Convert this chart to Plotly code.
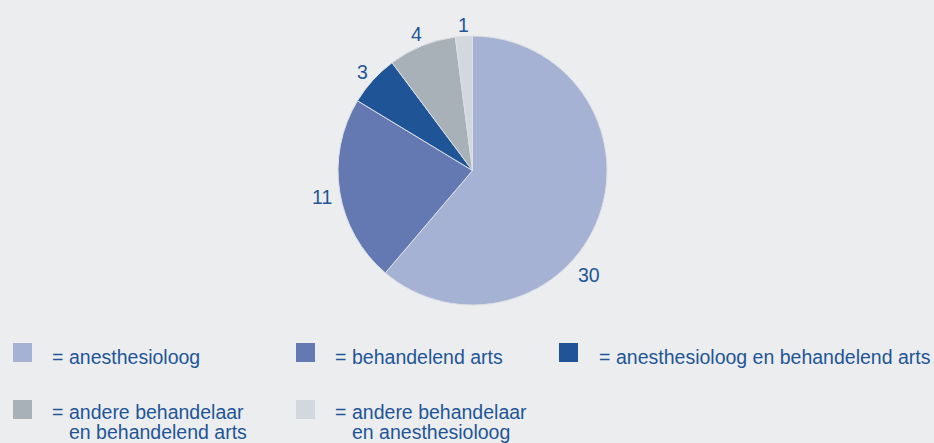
import math
import plotly.graph_objects as go

# ---- data ----
categories = [
    "anesthesioloog",
    "behandelend arts",
    "anesthesioloog en behandelend arts",
    "andere behandelaar en behandelend arts",
    "andere behandelaar en anesthesioloog",
]
values = [30, 11, 3, 4, 1]
legend_lines = [
    ["anesthesioloog"],
    ["behandelend arts"],
    ["anesthesioloog en behandelend arts"],
    ["andere behandelaar", "en behandelend arts"],
    ["andere behandelaar", "en anesthesioloog"],
]
colors = ["#A5B2D3", "#6479B2", "#1F5597", "#A8B0B8", "#D2D8DD"]

W, H = 934, 443
BG = "#ECEDEF"
TXT = "#1F5597"
FONT = "Liberation Sans"
FS = 19.5

# pie geometry (pixels)
CX, CY, R = 472.5, 170.5, 134.5


def py(y_px):
    return 1 - y_px / H


def px(x_px):
    return x_px / W


fig = go.Figure()
fig.add_trace(go.Pie(
    labels=categories,
    values=values,
    marker=dict(colors=colors, line=dict(color="#DCE0E6", width=1)),
    sort=False,
    direction="clockwise",
    rotation=0,
    textinfo="none",
    domain=dict(x=[px(CX - R), px(CX + R)], y=[py(CY + R), py(CY - R)]),
    showlegend=False,
    hoverinfo="label+value",
))

annotations = []

# value labels just outside each slice, at the slice's middle angle
total = sum(values)
cum = 0
gap = 6
half_h = 7
for i, v in enumerate(values):
    mid = (cum + v / 2) / total * 2 * math.pi
    cum += v
    dx, dy = math.sin(mid), -math.cos(mid)
    txt = str(v)
    half_w = len(txt) * 0.556 * FS / 2
    if i == 0:
        # the reference places the largest slice's label lower on the rim
        lx, ly = 588.5, 275
    else:
        ext = abs(dx) * half_w + abs(dy) * half_h
        d = R + gap + ext
        lx, ly = CX + d * dx, CY + d * dy + 2
    annotations.append(dict(text=txt, x=px(lx), y=py(ly), xref="paper", yref="paper",
                            xanchor="center", yanchor="middle", showarrow=False,
                            font=dict(family=FONT, size=FS, color=TXT)))

shapes = []

# legend layout: (square left x, "=" x, text x) per column; (square top, first line centre) per row
cols = [(13, 50, 67), (296, 333, 350), (559, 597, 614)]
rows = [(343, 356.5), (400, 412)]
line_gap = 19.5
sq = 19

for i, lines in enumerate(legend_lines):
    sx, ex, tx = cols[i % 3]
    sy, cy = rows[i // 3]
    shapes.append(dict(type="rect", xref="paper", yref="paper",
                       x0=px(sx), x1=px(sx + sq), y0=py(sy + sq), y1=py(sy),
                       fillcolor=colors[i], line=dict(width=0)))
    annotations.append(dict(text="=", x=px(ex), y=py(cy), xref="paper", yref="paper",
                            xanchor="left", yanchor="middle", showarrow=False,
                            font=dict(family=FONT, size=FS, color=TXT)))
    for j, ln in enumerate(lines):
        annotations.append(dict(text=ln, x=px(tx), y=py(cy + j * line_gap),
                                xref="paper", yref="paper",
                                xanchor="left", yanchor="middle", showarrow=False,
                                font=dict(family=FONT, size=FS, color=TXT)))

fig.update_layout(
    width=W, height=H,
    margin=dict(l=0, r=0, t=0, b=0),
    paper_bgcolor=BG, plot_bgcolor=BG,
    font=dict(family=FONT, size=FS, color=TXT),
    annotations=annotations,
    shapes=shapes,
)

fig.write_html(
    "out.html",
    config={"displayModeBar": False},
    post_script="document.body.style.margin='0';document.body.style.padding='0';"
                "document.body.style.overflow='hidden';document.body.style.background='%s';" % BG,
)
